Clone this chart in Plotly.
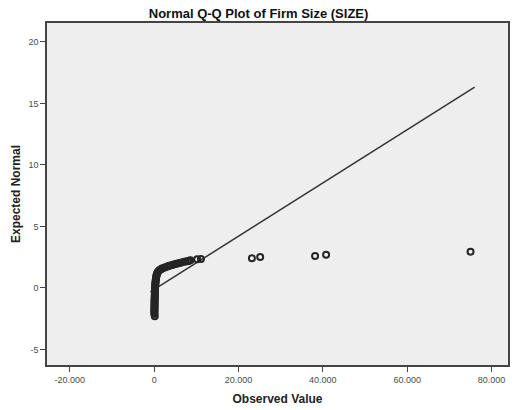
import plotly.graph_objects as go

observed = [150, 60, 70, 60, 80, 70, 90, 80, 100, 90, 110, 100, 120, 110, 130, 140,
            150, 160, 170, 180, 190, 200, 220, 240, 260, 280, 300, 330, 360, 400, 440,
            490, 540, 600, 700, 850, 1050, 1400, 1700, 2000, 2500, 3000, 3400, 3800,
            4300, 4800, 5300, 5800, 6300, 6900, 7400, 7900, 8300, 8600,
            10200, 11100, 23180, 25140, 38160, 40770, 75020]
expected = [-2.30, -2.12, -2.02, -1.92, -1.82, -1.72, -1.62, -1.52, -1.42, -1.32, -1.22,
            -1.12, -1.02, -0.92, -0.82, -0.72, -0.62, -0.52, -0.42, -0.32, -0.22, -0.12,
            -0.02, 0.08, 0.18, 0.28, 0.38, 0.48, 0.58, 0.68, 0.78, 0.88, 0.98, 1.08,
            1.18, 1.28, 1.38, 1.48, 1.55, 1.61, 1.67, 1.73, 1.78, 1.82, 1.87, 1.92,
            1.96, 2.00, 2.05, 2.10, 2.14, 2.18, 2.22, 2.26,
            2.33, 2.36, 2.41, 2.52, 2.60, 2.70, 2.95]

# Reference line end points
line_x = [-900, 76000]
line_y = [-0.32, 16.32]

x_ticks = [-20000, 0, 20000, 40000, 60000, 80000]
x_tick_labels = ["-20.000", "0", "20.000", "40.000", "60.000", "80.000"]
y_ticks = [-5, 0, 5, 10, 15, 20]
y_tick_labels = ["-5", "0", "5", "10", "15", "20"]

FONT = "Liberation Sans, Arial, sans-serif"

fig = go.Figure()
fig.add_trace(go.Scatter(
    x=line_x, y=line_y, mode="lines",
    line=dict(color="#333333", width=1.5), hoverinfo="skip", showlegend=False))
fig.add_trace(go.Scatter(
    x=observed, y=expected, mode="markers",
    marker=dict(symbol="circle-open", size=6, color="#252525",
                line=dict(width=2, color="#252525")),
    showlegend=False))

axis_common = dict(
    showgrid=False, zeroline=False, showline=True, linecolor="#444444",
    linewidth=1.5, mirror=True, ticks="outside", ticklen=5, tickwidth=1,
    automargin=False,
    tickcolor="#444444", tickfont=dict(family=FONT, size=9, color="#4a4a4a"))

fig.update_layout(
    width=512, height=410,
    margin=dict(l=47, r=4, t=23, b=45),
    paper_bgcolor="white", plot_bgcolor="#eeeeee",
    title=dict(text="<b>Normal Q-Q Plot of Firm Size (SIZE)</b>",
               font=dict(family=FONT, size=13, color="#111111"),
               x=0.505, xanchor="center", y=1 - 13.5 / 410, yanchor="middle",
               yref="container"),
    xaxis=dict(range=[-25400, 83900], tickvals=x_ticks, ticktext=x_tick_labels,
               title=dict(text="<b>Observed Value</b>",
                          font=dict(family=FONT, size=12, color="#222222"),
                          standoff=11),
               **axis_common),
    yaxis=dict(range=[-6.26, 21.53], tickvals=y_ticks, ticktext=y_tick_labels,
               title=dict(text="<b>Expected Normal</b>",
                          font=dict(family=FONT, size=12, color="#222222"),
                          standoff=5),
               **axis_common),
)

fig.write_html("out.html", config={"displayModeBar": False},
               post_script="document.body.style.margin='0';")
